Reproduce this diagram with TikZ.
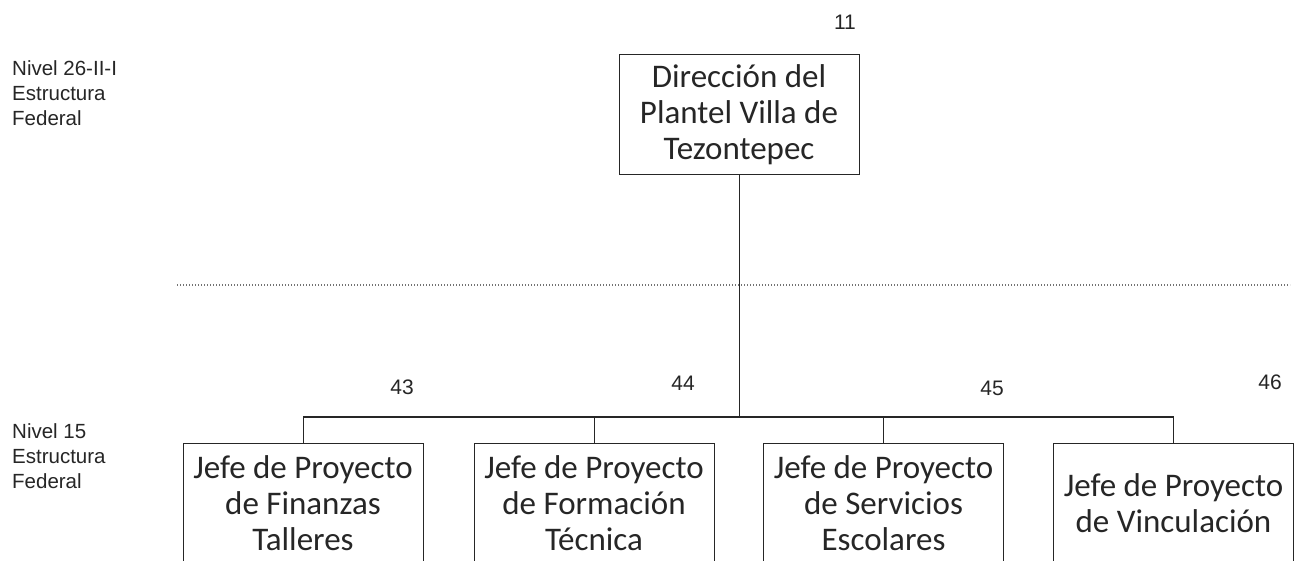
\documentclass[tikz,border=0pt]{standalone}
\usepackage{fontspec}
\setmainfont{Liberation Sans}
\newfontfamily\boxfont{Carlito}
\begin{document}
\begin{tikzpicture}[x=1pt,y=-1pt,
  orgbox/.style={draw=black!85, line width=1pt, minimum width=240pt, minimum height=120pt,
    inner sep=2pt, align=center, font=\boxfont\fontsize{33}{36}\selectfont, text=black!85},
  numlabel/.style={font=\fontsize{21}{24}\selectfont, text=black!85, inner sep=0pt},
  levellabel/.style={font=\fontsize{20.5}{25}\selectfont, text=black!85, align=left, anchor=west, inner sep=0pt},
  conn/.style={draw=black!85, line width=1pt},
  levelsep/.style={draw=black!55, line width=1.3pt, dash pattern=on 1.3pt off 1.7pt}]
\useasboundingbox (0,0) rectangle (1302,561);
\clip (0,0) rectangle (1302,561);
\fill[white] (0,0) rectangle (1302,561);

% level labels
\node[levellabel] (lvA) at (12,93) {Nivel 26-II-I\\Estructura\\Federal};
\node[levellabel] (lvB) at (12,456) {Nivel 15\\Estructura\\Federal};

% dotted separator
\coordinate (sepL) at (177,285);
\coordinate (sepR) at (1290,285);
\draw[levelsep] (sepL) -- (sepR);

% boxes
\node[orgbox] (dir) at (739,115) {Dirección del\\Plantel Villa de\\Tezontepec};
\node[orgbox] (j1) at (303,503) {Jefe de Proyecto\\de Finanzas\\Talleres};
\node[orgbox] (j2) at (594,503) {Jefe de Proyecto\\de Formación\\Técnica};
\node[orgbox] (j3) at (883.5,503) {Jefe de Proyecto\\de Servicios\\Escolares};
\node[orgbox] (j4) at (1173.5,503) {Jefe de Proyecto\\de Vinculación};

% numbers
\node[numlabel] (n11) at (845,22) {11};
\node[numlabel] (n43) at (402,387) {43};
\node[numlabel] (n44) at (683,383) {44};
\node[numlabel] (n45) at (992,388) {45};
\node[numlabel] (n46) at (1270,382) {46};

% connectors
\coordinate (bus) at (739,417);
\draw[conn] (dir.south) -- (bus);
\draw[conn] (j1.north) |- (j4.north |- bus) -- (j4.north);
\draw[conn] (j2.north) -- (j2.north |- bus);
\draw[conn] (j3.north) -- (j3.north |- bus);
\end{tikzpicture}
\end{document}
